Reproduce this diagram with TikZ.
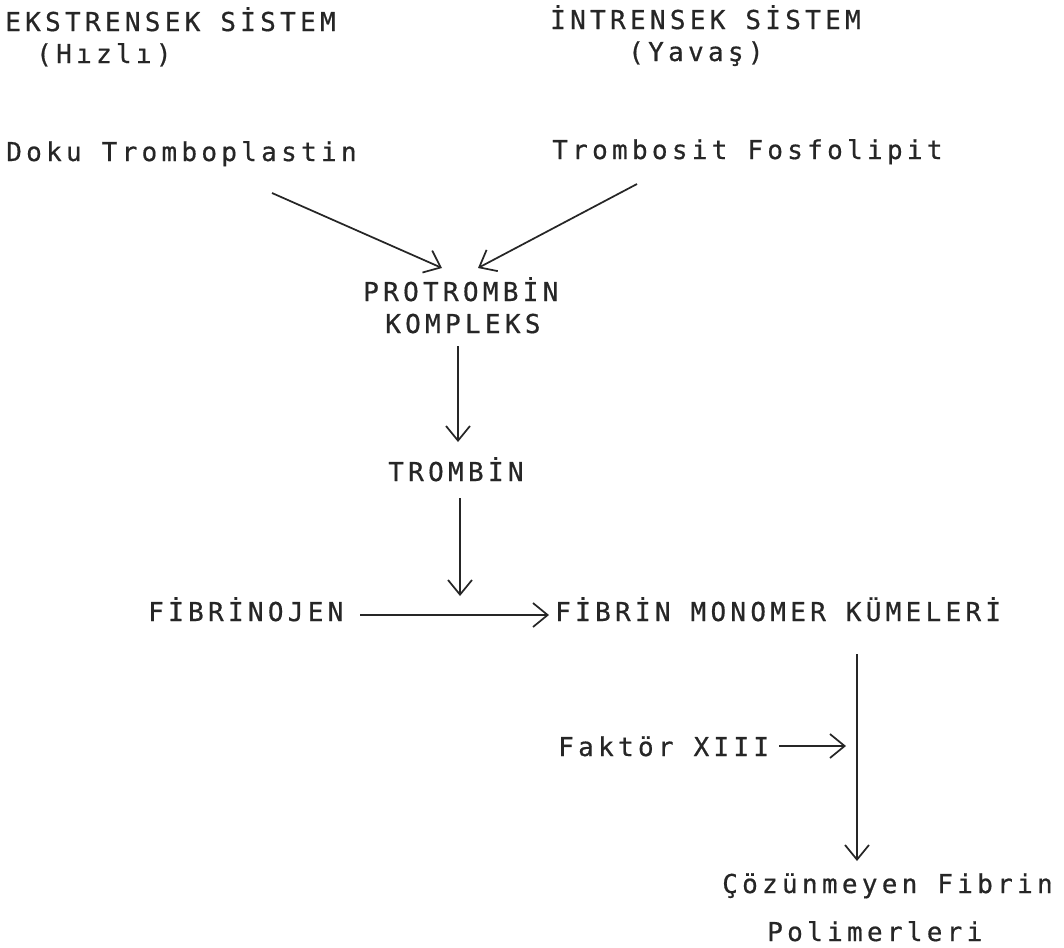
\documentclass[tikz,border=0pt]{standalone}
\usepackage{fontspec}
\setmainfont{DejaVu Sans Mono}[LetterSpace=16.5, FakeBold=0.6]
\usetikzlibrary{arrows.meta,calc}

\definecolor{ink}{HTML}{262626}

\tikzset{
  lbl/.style={anchor=base west, inner sep=0pt, text=ink,
              font=\fontsize{19.5pt}{23pt}\selectfont},
  flow/.style={draw=ink, line width=1.3pt,
               -{Straight Barb[length=11pt,width=18pt,line width=1.3pt]}},
}

\begin{document}
\begin{tikzpicture}[x=0.75pt,y=-0.75pt]
  \useasboundingbox (0,0) rectangle (1064,947);

  % headings
  \node[lbl] (ekst)  at (5,31)   {EKSTRENSEK SİSTEM};
  \node[lbl] (hizli) at (36,63)  {(Hızlı)};
  \node[lbl] (intr)  at (550,29) {İNTRENSEK SİSTEM};
  \node[lbl] (yavas) at (628,61) {(Yavaş)};

  % sources
  \node[lbl] (doku)  at (6,161)   {Doku Tromboplastin};
  \node[lbl] (tromb) at (552,159) {Trombosit Fosfolipit};

  % cascade
  \node[lbl] (prot)  at (363,301) {PROTROMBİN};
  \node[lbl] (komp)  at (385,333) {KOMPLEKS};
  \node[lbl] (trbn)  at (388,481) {TROMBİN};
  \node[lbl] (fbjn)  at (148,621) {FİBRİNOJEN};
  \node[lbl] (fbmn)  at (555,621) {FİBRİN MONOMER KÜMELERİ};
  \node[lbl] (f13)   at (558,756) {Faktör XIII};
  \node[lbl] (cozun) at (722,893) {Çözünmeyen Fibrin};
  \node[lbl] (polim) at (767,941) {Polimerleri};

  % connectors
  \draw[flow] ($(doku.base west)+(266,32)$) -- ($(prot.base west)+(79,-33)$);
  \draw[flow] ($(tromb.base west)+(85,25)$) -- ($(prot.base west)+(115,-33)$);
  \draw[flow] ($(komp.base west)+(73,13)$)  -- ($(trbn.base west)+(70,-39)$);
  \draw[flow] ($(trbn.base west)+(72,17)$)  -- ($(trbn.base west)+(72,115)$);
  \draw[flow] ($(fbjn.base west)+(212,-6)$) -- ($(fbmn.base west)+(-6,-6)$);
  \draw[flow] ($(fbmn.base west)+(302,33)$) -- ($(cozun.base west)+(135,-32)$);
  \draw[flow] ($(f13.base east)+(10,-10)$)  -- ($(f13.base west)+(288,-10)$);
\end{tikzpicture}
\end{document}
